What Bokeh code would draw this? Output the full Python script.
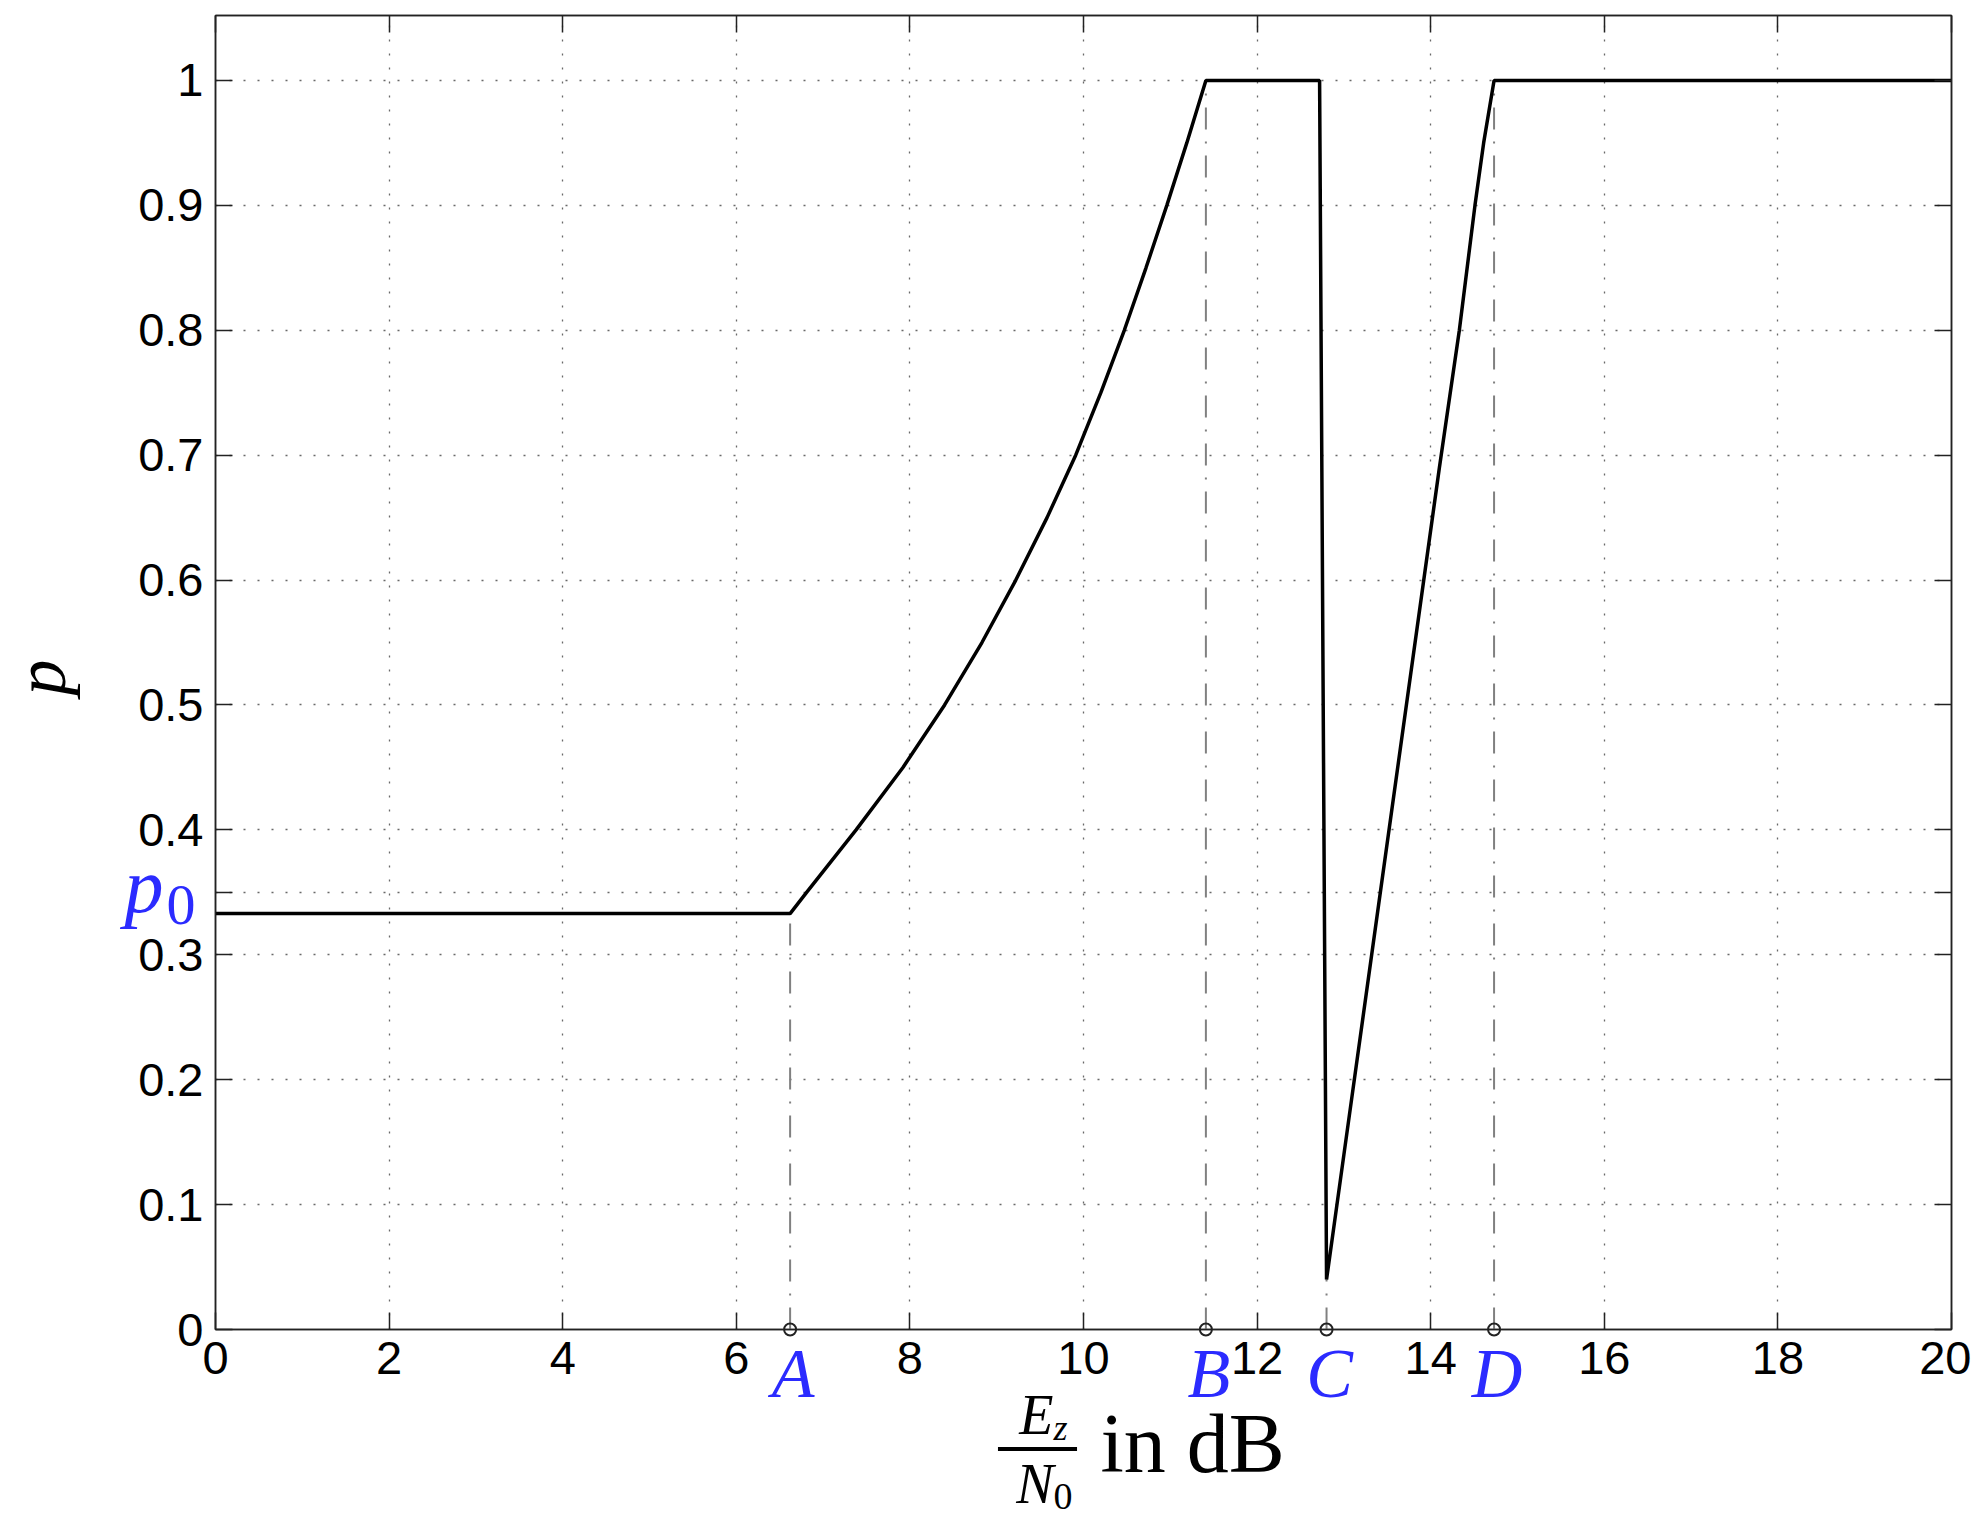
import math
from bokeh.plotting import figure
from bokeh.models import Range1d, FixedTicker, LinearAxis
from bokeh.core.properties import value
from bokeh.embed import file_html
from bokeh.resources import INLINE

# ---- data -------------------------------------------------------------
snr_db = [0.0, 6.62, 6.81, 7.38, 7.92, 8.40, 8.83, 9.22, 9.58, 9.91, 10.20,
          10.47, 10.72, 10.96, 11.19, 11.41, 12.72, 12.80, 13.00, 13.40,
          13.80, 14.10, 14.33, 14.51, 14.61, 14.73, 20.0]
p_vals = [0.333, 0.333, 0.35, 0.40, 0.45, 0.50, 0.55, 0.60, 0.65, 0.70, 0.75,
          0.80, 0.85, 0.90, 0.95, 1.0, 1.0, 0.04, 0.14, 0.34,
          0.54, 0.69, 0.80, 0.90, 0.95, 1.0, 1.0]

key_names = ["A", "B", "C", "D"]
key_x = [6.62, 11.41, 12.80, 14.73]
key_p = [0.333, 1.0, 0.04, 1.0]
key_base = [0.0, 0.0, 0.0, 0.0]

x_ticks = [0, 2, 4, 6, 8, 10, 12, 14, 16, 18, 20]
y_ticks = [0, 0.1, 0.2, 0.3, 0.35, 0.4, 0.5, 0.6, 0.7, 0.8, 0.9, 1.0]
p0_tick = 0.35
x_min, x_max = 0, 20
y_min, y_max = 0, 1.052

BLUE = "#2b2bff"
SERIF = "Liberation Serif"
SANS = "Liberation Sans"

p = figure(width=1971, height=1525, title=None,
           x_range=Range1d(x_min, x_max), y_range=Range1d(y_min, y_max),
           output_backend="svg", toolbar_location=None,
           min_border_left=215, min_border_right=20,
           min_border_top=15, min_border_bottom=196)
p.background_fill_color = "white"
p.border_fill_color = "white"
p.outline_line_color = "#222222"
p.outline_line_width = 1.5

xt = FixedTicker(ticks=x_ticks)
yt = FixedTicker(ticks=y_ticks)

def style_axis(ax):
    ax.axis_line_color = "#222222"
    ax.axis_line_width = 1.5
    ax.major_tick_in = 17
    ax.major_tick_out = 0
    ax.major_tick_line_width = 1.5
    ax.major_tick_line_color = "#222222"
    ax.minor_tick_in = 0
    ax.minor_tick_out = 0
    ax.minor_tick_line_color = None
    ax.major_label_text_font = SANS
    ax.major_label_text_font_size = "47px"
    ax.major_label_text_color = "black"
    ax.major_label_standoff = 12

p.xaxis.ticker = xt
p.yaxis.ticker = yt
for ax in p.xaxis + p.yaxis:
    style_axis(ax)
p.yaxis.major_label_overrides = {p0_tick: ""}
p.xaxis.axis_label = None
p.yaxis.axis_label = None

# tick-only axes on top and right (boxed MATLAB style)
top_ax = LinearAxis(ticker=xt)
right_ax = LinearAxis(ticker=yt)
for ax in (top_ax, right_ax):
    style_axis(ax)
    ax.major_label_text_font_size = "0px"
    ax.major_label_standoff = 0
top_ax.major_label_overrides = {t: "" for t in x_ticks}
right_ax.major_label_overrides = {t: "" for t in y_ticks}
p.add_layout(top_ax, "above")
p.add_layout(right_ax, "right")

# grid
p.xgrid.ticker = xt
p.ygrid.ticker = yt
for g in (p.xgrid, p.ygrid):
    g.grid_line_color = "#444444"
    g.grid_line_alpha = 0.8
    g.grid_line_width = 1.3
    g.grid_line_dash = "2 12"

# dash-dot guide lines from the axis to the curve
p.segment(x0=key_x, y0=key_base, x1=key_x, y1=key_p,
          line_color="#808080", line_width=2, line_dash="22 12 2 12")

# main curve
p.line(snr_db, p_vals, line_color="black", line_width=3.5)

# small circles on the axis
p.scatter(key_x, key_base, marker="circle", size=12, fill_color="white",
          fill_alpha=0, line_color="#222222", line_width=2, level="overlay")

def txt(x, y, text, size, color="black", style="normal", align="left",
        baseline="alphabetic", dx=0, dy=0, angle=0):
    p.text(x=x, y=y, text=text, text_font=value(SERIF),
           text_font_style=value(style), text_font_size=value(size),
           text_color=color, text_align=value(align),
           text_baseline=value(baseline), x_offset=dx, y_offset=dy,
           angle=angle, level="overlay")

# A, B, C, D labels under the axis
txt(key_x, key_base, key_names, "70px", color=BLUE, style="italic",
    align="center", dx=3, dy=44)

# p0 tick label
txt([x_min], [p0_tick], ["p"], "78px", color=BLUE, style="italic",
    align="right", dx=-52, dy=-7)
txt([x_min], [p0_tick], ["0"], "58px", color=BLUE, align="right",
    dx=-20, dy=13)

# y axis label "p" (rotated)
txt([x_min], [(y_min + y_max) / 2], ["p"], "72px", style="italic",
    align="center", dx=-175, dy=5, angle=math.pi / 2)

# x axis label: E_z / N_0 in dB
xl = (x_min + x_max) / 2 - 0.53
txt([xl], [y_min], ["E"], "56px", style="italic", align="right", dx=16, dy=85)
txt([xl], [y_min], ["z"], "36px", style="italic", align="left", dx=16, dy=98)
txt([xl], [y_min], ["\u2014"], "78px", align="center", dx=0, dy=111)
txt([xl], [y_min], ["N"], "56px", style="italic", align="right", dx=16, dy=154)
txt([xl], [y_min], ["0"], "38px", align="left", dx=16, dy=167)
txt([xl], [y_min], ["in dB"], "84px", align="left", dx=63, dy=114)

open("out.html", "w").write(file_html(p, INLINE))
